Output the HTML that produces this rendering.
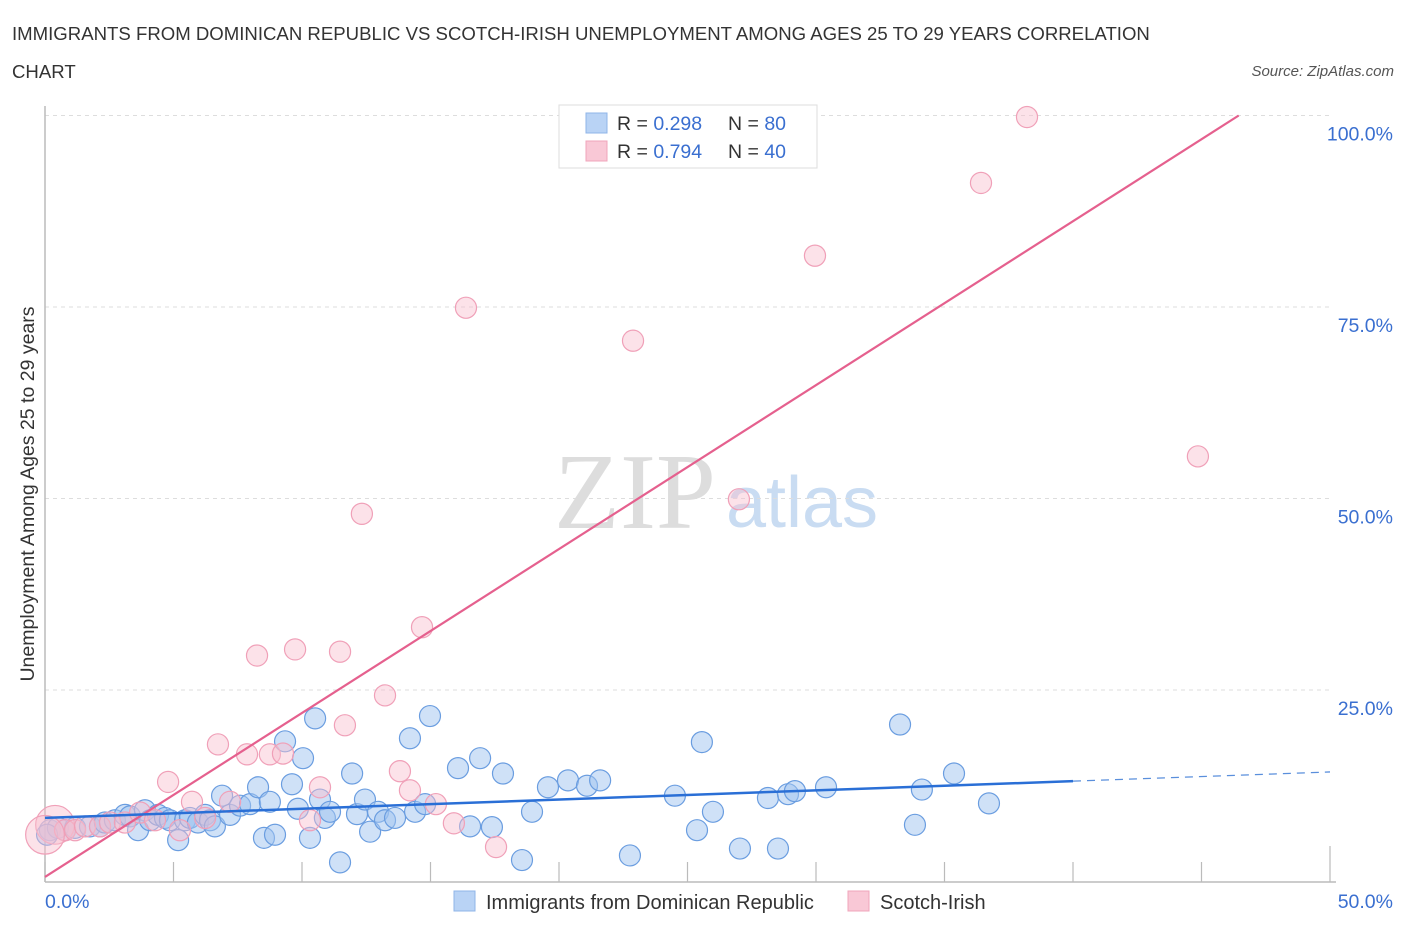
<!DOCTYPE html>
<html><head><meta charset="utf-8"><style>
body{margin:0;background:#fff;font-family:"Liberation Sans",sans-serif}
#c{position:relative;width:1406px;height:930px}
</style></head><body>
<div id="c">
<svg id="s" width="1406" height="930" style="position:absolute;left:0;top:0">
<text x="12" y="40" font-size="18.6" fill="#333">IMMIGRANTS FROM DOMINICAN REPUBLIC VS SCOTCH-IRISH UNEMPLOYMENT AMONG AGES 25 TO 29 YEARS CORRELATION</text>
<text x="12" y="78" font-size="18.6" fill="#333">CHART</text>
<text x="1394" y="76" font-size="15" fill="#555" font-style="italic" text-anchor="end">Source: ZipAtlas.com</text>
<text x="635" y="528" font-size="108" fill="#ddd" font-family="Liberation Serif,serif" text-anchor="middle">ZIP</text>
<text x="802" y="527" font-size="72" fill="#c9dcf2" text-anchor="middle">atlas</text>
<text transform="translate(34,494) rotate(-90)" font-size="19.5" fill="#333" text-anchor="middle">Unemployment Among Ages 25 to 29 years</text>
<g id="grid"></g><g id="pts"></g><g id="lines"></g>
<rect x="559" y="105" width="258" height="63" fill="#fff" stroke="#ddd"/>
<rect x="586" y="113" width="21" height="20" fill="#b9d3f5" stroke="#8fb5e8"/>
<rect x="586" y="141" width="21" height="20" fill="#f9c8d6" stroke="#f0a5bb"/>
<text x="617" y="130" font-size="19.5" fill="#333">R = <tspan fill="#3a6fd0">0.298</tspan><tspan x="728">N = </tspan><tspan fill="#3a6fd0">80</tspan></text>
<text x="617" y="158" font-size="19.5" fill="#333">R = <tspan fill="#3a6fd0">0.794</tspan><tspan x="728">N = </tspan><tspan fill="#3a6fd0">40</tspan></text>
<rect x="454" y="891" width="21" height="20" fill="#b9d3f5" stroke="#8fb5e8"/>
<text x="486" y="909" font-size="20" fill="#333">Immigrants from Dominican Republic</text>
<rect x="848" y="891" width="21" height="20" fill="#f9c8d6" stroke="#f0a5bb"/>
<text x="880" y="909" font-size="20" fill="#333">Scotch-Irish</text>
</svg>
</div>
<script>
const blueX=[0.19,0.5,0.78,1.17,1.75,2.14,2.33,2.72,3.11,3.31,3.62,3.89,4.09,4.4,4.67,4.86,5.18,5.45,5.64,5.95,6.23,6.42,6.61,6.89,7.2,7.59,7.98,8.29,8.52,8.75,8.95,9.34,9.61,9.84,10.04,10.31,10.51,10.7,10.89,11.09,11.48,11.95,12.14,12.45,12.65,12.96,13.23,13.62,14.2,14.4,14.79,14.98,16.07,16.54,16.93,17.39,17.82,18.56,18.95,19.57,20.35,21.09,21.6,22.76,24.51,25.37,25.56,25.99,27.04,28.13,28.52,28.91,29.18,30.39,33.27,33.85,34.12,35.37,36.73,0.08];
const blueY=[6.7,7.0,6.7,7.0,7.2,7.2,7.7,8.0,8.7,8.5,6.7,9.3,8.0,8.7,8.3,8.0,5.4,8.0,8.3,7.7,8.7,8.0,7.2,11.2,8.7,9.9,10.1,12.3,5.7,10.4,6.1,18.3,12.7,9.5,16.1,5.7,21.3,10.7,8.3,9.1,2.5,14.1,8.8,10.7,6.5,9.1,8.0,8.3,18.7,9.1,10.1,21.6,14.8,7.2,16.1,7.1,14.1,2.8,9.1,12.3,13.2,12.5,13.2,3.4,11.2,6.7,18.2,9.1,4.3,10.9,4.3,11.4,11.8,12.3,20.5,7.4,12.0,14.1,10.2,6.1];
const pinkX=[0.39,0.78,1.17,1.56,2.14,2.53,3.11,3.7,4.28,4.79,5.25,5.72,6.23,6.73,7.2,7.86,8.25,8.75,9.26,9.73,10.31,10.7,11.48,11.67,12.33,13.23,13.81,14.2,14.67,15.21,15.91,16.38,17.55,22.88,27.0,29.96,36.42,38.21,44.86,0];
const pinkY=[7.4,6.7,6.7,7.2,7.2,7.7,7.7,9.0,8.0,13.0,6.7,10.4,8.3,17.9,10.4,16.6,29.5,16.6,16.7,30.3,8.0,12.3,30.0,20.4,48.0,24.3,14.4,11.9,33.2,10.1,7.6,74.9,4.5,70.6,49.9,81.7,91.2,99.8,55.5,6.1];
const pinkR=[22,12,12,12,12,12,12,12,12,12,12,12,12,12,12,12,12,12,12,12,12,12,12,12,12,12,12,12,12,12,12,12,12,12,12,12,12,12,12,22];
const yTicks=[25,50,75,100];
const yTickLabels=["25.0%","50.0%","75.0%","100.0%"];
const xTicks=[0,5,10,15,20,25,30,35,40,45,50];
const blueFit=[8.3,0.12,40];
const pinkFit=[0.6,2.14];
const NS='http://www.w3.org/2000/svg';
const sx=v=>45+v*25.7, sy=v=>881.5-v*7.66;
function mk(t,a,p){const e=document.createElementNS(NS,t);for(const k in a)e.setAttribute(k,a[k]);p.appendChild(e);return e;}
const grid=document.getElementById('grid'),pts=document.getElementById('pts'),lines=document.getElementById('lines');
yTicks.forEach((v,i)=>{
 const l=mk('line',{x1:45,x2:1330,y1:sy(v),y2:sy(v),stroke:'#ddd','stroke-dasharray':'4,4'},grid);
 
 
 const t=mk('text',{x:1393,y:sy(v)+25,'font-size':19.5,fill:'#3a6fd0','text-anchor':'end'},grid);
 t.textContent=yTickLabels[i];
 
 
});
const ax=mk('line',{x1:45,x2:45,y1:106,y2:882,stroke:'#bbb','stroke-width':1.5},grid);


const bx=mk('line',{x1:45,x2:1336,y1:882,y2:882,stroke:'#bbb','stroke-width':1.5},grid);


xTicks.forEach((v,i)=>{
 const t=mk('line',{x1:sx(v),x2:sx(v),y1:i==xTicks.length-1?846:862,y2:882,stroke:'#bbb','stroke-width':1.2},grid);
 
 
});
const xl0=mk('text',{x:45,y:908,'font-size':19.5,fill:'#3a6fd0'},grid);xl0.textContent=xTicks[0].toFixed(1)+'%';


const xl1=mk('text',{x:1393,y:908,'font-size':19.5,fill:'#3a6fd0','text-anchor':'end'},grid);xl1.textContent=xTicks[xTicks.length-1].toFixed(1)+'%';


blueX.forEach((x,i)=>{
 const c=mk('circle',{cx:sx(x),cy:sy(blueY[i]),r:10.5,fill:'rgba(160,196,240,0.5)',stroke:'#6a9de0','stroke-width':1.2},pts);
 
 
});
pinkX.forEach((x,i)=>{
 const c=mk('circle',{cx:sx(x),cy:sy(pinkY[i]),r:pinkR[i]*0.88,fill:'rgba(248,190,206,0.45)',stroke:'#f0a0b8','stroke-width':1.2},pts);
 
 
});
const pxEnd=(100-pinkFit[0])/pinkFit[1];
const pl=mk('line',{x1:sx(0),y1:sy(pinkFit[0]),x2:sx(pxEnd),y2:sy(100),stroke:'#e5608e','stroke-width':2.2},lines);


const bl=mk('line',{x1:sx(0),y1:sy(blueFit[0]),x2:sx(blueFit[2]),y2:sy(blueFit[0]+blueFit[1]*blueFit[2]),stroke:'#2a6fd6','stroke-width':2.5},lines);


const bd=mk('line',{x1:sx(blueFit[2]),y1:sy(blueFit[0]+blueFit[1]*blueFit[2]),x2:sx(50),y2:sy(blueFit[0]+blueFit[1]*50),stroke:'#5a8fdc','stroke-width':1.3,'stroke-dasharray':'8,6'},lines);


</script>
</body></html>
